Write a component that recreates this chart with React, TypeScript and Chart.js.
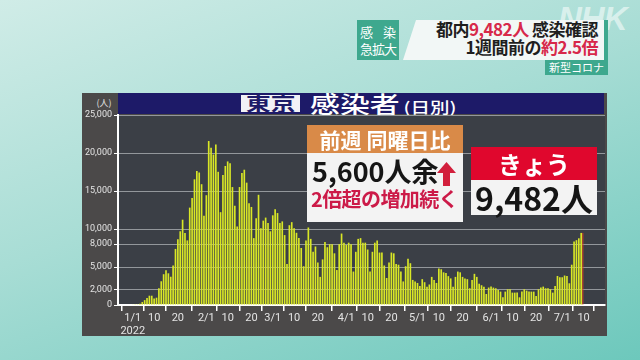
import React, { useEffect, useRef } from "react";
import { Chart, registerables } from "chart.js";

Chart.register(...registerables);

// Daily new cases, Tokyo 2022 (1/1 .. 7/9)
const casesJan = [78, 84, 103, 151, 390, 641, 922, 1224, 1223, 871, 962, 2198, 3124, 4051, 4561, 4172, 3719, 5185, 7377, 8638, 9699, 11227, 9468, 8503, 12813, 14086, 16538, 17631, 17433, 15895, 11751];
const casesFeb = [14445, 21576, 20679, 19798, 21121, 17526, 12214, 17113, 18287, 18891, 18660, 15520, 13060, 10330, 15520, 17370, 17800, 16100, 13400, 12900, 8800, 11400, 14500, 10100, 11100, 11500, 10800, 9700];
const casesMar = [11800, 12600, 12100, 10800, 11000, 9200, 5400, 10500, 10900, 10100, 9500, 8800, 7500, 5100, 8500, 10200, 8700, 7000, 7700, 5600, 3700, 6000, 8300, 7600, 8000, 8000, 6800, 4600, 8000, 9400, 8200];
const casesApr = [7900, 8200, 8000, 4400, 7000, 8700, 8800, 8200, 8200, 7300, 4400, 7000, 8200, 8500, 6900, 6900, 5200, 3550, 5600, 6900, 6800, 5400, 5300, 4400, 3100, 5100, 6100, 5500, 3300, 3100];
const casesMay = [2900, 2500, 3400, 3000, 2400, 2700, 3700, 3300, 2900, 4800, 4700, 4300, 4200, 3800, 3500, 2400, 3700, 4400, 4300, 3700, 3500, 3400, 2200, 3300, 4100, 3700, 2800, 2600, 2400, 1450, 2300];
const casesJun = [2420, 2290, 2200, 1980, 1760, 1010, 1760, 2070, 2070, 1630, 1630, 1630, 1010, 1760, 2070, 1890, 1760, 1760, 1760, 1190, 2070, 2290, 2420, 2200, 2200, 2070, 1630, 2500, 3820, 3650];
const casesJul = [3650, 3880, 3820, 2860, 5302, 8341, 8529, 8777, 9482];

const dailyCases = [...casesJan, ...casesFeb, ...casesMar, ...casesApr, ...casesMay, ...casesJun, ...casesJul];

// x ticks (day index from 1/1) and their labels
const xTickDays = [0, 9, 19, 31, 40, 50, 59, 68, 78, 90, 99, 109, 120, 129, 139, 151, 160, 170, 181, 190];
const xTickLabels = ["1/1", "10", "20", "2/1", "10", "20", "3/1", "10", "20", "4/1", "10", "20", "5/1", "10", "20", "6/1", "10", "20", "7/1", "10"];
const yearLabel = "2022";
const yTicks = [0, 2000, 5000, 8000, 10000, 15000, 20000, 25000];

const CJK = "'Noto Sans CJK JP', 'Noto Sans', sans-serif";

export default function App() {
  const canvasRef = useRef<HTMLCanvasElement | null>(null);

  useEffect(() => {
    const canvas = canvasRef.current;
    if (!canvas) return;
    const last = dailyCases.length - 1;

    const plotBg = {
      id: "plotBg",
      beforeDraw(chart: any) {
        const { ctx, chartArea: a } = chart;
        ctx.save();
        ctx.fillStyle = "#3b3f46";
        ctx.fillRect(a.left, a.top, a.right - a.left, a.bottom - a.top);
        ctx.restore();
      },
    };
    const todayMark = {
      id: "todayMark",
      afterDatasetsDraw(chart: any) {
        const meta = chart.getDatasetMeta(0);
        const bar = meta.data[last];
        if (!bar) return;
        const { ctx } = chart;
        const p = bar.getProps(["x", "y", "base", "width"], true);
        ctx.save();
        ctx.strokeStyle = "#d8452a";
        ctx.lineWidth = 1;
        ctx.beginPath();
        ctx.moveTo(p.x + p.width / 2 + 0.8, p.y);
        ctx.lineTo(p.x + p.width / 2 + 0.8, p.base);
        ctx.stroke();
        ctx.restore();
      },
    };

    const chart = new Chart(canvas, {
      type: "bar",
      data: {
        datasets: [
          {
            data: dailyCases.map((v, i) => ({ x: i, y: v })),
            backgroundColor: "#d9e726",
            borderWidth: 0,
            barPercentage: 0.7,
            categoryPercentage: 1,
          },
        ],
      },
      options: {
        animation: false,
        responsive: false,
        devicePixelRatio: 1,
        layout: { padding: { left: 78, right: 35, top: 115, bottom: 24 } },
        plugins: { legend: { display: false }, tooltip: { enabled: false } },
        scales: {
          x: {
            type: "linear",
            min: -1.1,
            max: 193.9,
            afterBuildTicks: (scale: any) => {
              scale.ticks = xTickDays.map((v) => ({ value: v }));
            },
            afterFit: (scale: any) => {
              scale.height = 31;
            },
            ticks: {
              autoSkip: false,
              maxRotation: 0,
              padding: 1,
              color: "#e4e4e4",
              font: { size: 11, family: "Roboto", lineHeight: 1.15 },
              callback: (value: any) => {
                const k = xTickDays.indexOf(value);
                if (k < 0) return "";
                return k === 0 ? [xTickLabels[0], yearLabel] : xTickLabels[k];
              },
            },
            grid: { drawOnChartArea: false, drawTicks: true, tickLength: 6, tickColor: "#ffffff", lineWidth: 1.5 },
            border: { display: true, color: "#ffffff", width: 2 },
          },
          y: {
            min: 0,
            max: 25000,
            afterBuildTicks: (scale: any) => {
              scale.ticks = yTicks.map((v) => ({ value: v }));
            },
            afterFit: (scale: any) => {
              scale.width = 40;
            },
            ticks: {
              padding: 2,
              color: "#e4e4e4",
              font: { size: 9, family: "Roboto" },
              callback: (value: any) => Number(value).toLocaleString("en-US"),
            },
            grid: {
              color: (ctx: any) => (ctx.tick && ctx.tick.value === 0 ? "rgba(0,0,0,0)" : "#93979b"),
              tickColor: "#ffffff",
              tickLength: 4,
              lineWidth: 1,
            },
            border: { display: true, color: "#ffffff", width: 2 },
          },
        },
      },
      plugins: [plotBg, todayMark],
    });
    return () => chart.destroy();
  }, []);

  const abs = (l: number, t: number, w: number, h: number): React.CSSProperties => ({
    position: "absolute",
    left: l,
    top: t,
    width: w,
    height: h,
  });

  return (
    <div
      style={{
        position: "fixed",
        left: 0,
        top: 0,
        width: 640,
        height: 360,
        overflow: "hidden",
        background: "linear-gradient(160deg, #d0ece7 0%, #a8ddd5 45%, #6dc8bc 100%)",
        fontFamily: CJK,
      }}
    >
      {/* NHK logo */}
      <div
        style={{
          position: "absolute",
          left: 558,
          top: 0,
          fontFamily: "'Liberation Sans', sans-serif",
          fontWeight: 700,
          fontStyle: "italic",
          fontSize: 33,
          color: "rgba(255,255,255,0.55)",
          letterSpacing: -1,
        }}
      >
        NHK
      </div>

      {/* header */}
      <div
        style={{
          ...abs(357, 20, 42, 40),
          background: "#3ea88e",
          color: "#fff",
          fontSize: 13,
          lineHeight: "17px",
          paddingTop: 3,
          boxSizing: "border-box",
        }}
      >
        <div style={{ display: "flex", justifyContent: "space-between", padding: "0 3px" }}>
          <span>感</span>
          <span>染</span>
        </div>
        <div style={{ textAlign: "center", letterSpacing: -1 }}>急拡大</div>
      </div>
      <div
        style={{
          ...abs(403, 20, 205, 40),
          background: "rgba(246,248,248,0.95)",
          clipPath: "polygon(13px 0, 100% 0, 100% 100%, 0 100%)",
        }}
      />
      <div style={{ ...abs(604, 20, 4, 55), background: "#3ea88e" }} />
      <div
        style={{
          position: "absolute",
          right: 42,
          top: 20,
          textAlign: "right",
          fontSize: 17,
          fontWeight: 700,
          lineHeight: "18px",
          color: "#1e1e1e",
          whiteSpace: "nowrap",
          letterSpacing: -0.5,
        }}
      >
        <div>
          都内<span style={{ color: "#d7284a" }}>9,482人</span> 感染確認
        </div>
        <div>
          1週間前の<span style={{ color: "#d7284a" }}>約2.5倍</span>
        </div>
      </div>
      <div
        style={{
          ...abs(545, 60, 63, 15),
          background: "#3ea88e",
          color: "#fff",
          fontSize: 11,
          lineHeight: "15px",
          textAlign: "center",
        }}
      >
        新型コロナ
      </div>

      {/* panel */}
      <div style={{ ...abs(82, 93, 525, 243), background: "#4b4949" }} />
      <div style={{ ...abs(118, 93, 486, 21), background: "#1d1a68" }} />
      <div
        style={{
          position: "absolute",
          left: 92,
          top: 96,
          width: 24,
          textAlign: "center",
          fontSize: 9,
          color: "#e0e0e0",
        }}
      >
        (人)
      </div>
      <div style={{ ...abs(241, 95, 59, 17), background: "#f1f1f6" }} />
      <div
        style={{
          position: "absolute",
          left: 246,
          top: 90,
          fontSize: 19,
          fontWeight: 700,
          color: "#1d1a68",
          lineHeight: "26px",
          transform: "scaleX(1.3)",
          transformOrigin: "left center",
        }}
      >
        東京
      </div>
      <div
        style={{
          position: "absolute",
          left: 310,
          top: 89,
          fontSize: 23,
          fontWeight: 500,
          color: "#ffffff",
          lineHeight: "28px",
          transform: "scaleX(1.3)",
          transformOrigin: "left center",
          whiteSpace: "nowrap",
        }}
      >
        感染者
        <span style={{ fontSize: 15, marginLeft: 3 }}>(日別)</span>
      </div>

      <canvas ref={canvasRef} width={640} height={360} style={{ position: "absolute", left: 0, top: 0 }} />

      {/* annotation: weekly comparison */}
      <div
        style={{
          ...abs(307, 125, 156, 28),
          background: "#d98a48",
          color: "#fff",
          fontSize: 21,
          fontWeight: 700,
          lineHeight: "28px",
          textAlign: "center",
          whiteSpace: "nowrap",
        }}
      >
        前週 同曜日比
      </div>
      <div style={{ ...abs(307, 153, 156, 69), background: "#f3f3f3" }} />
      <div
        style={{
          position: "absolute",
          left: 312,
          top: 155,
          fontSize: 27,
          fontWeight: 700,
          color: "#151515",
          lineHeight: "32px",
          whiteSpace: "nowrap",
        }}
      >
        5,600人余
      </div>
      <svg style={{ position: "absolute", left: 437, top: 162 }} width={19} height={24} viewBox="0 0 19 24">
        <polygon points="9.5,0 19,11 13,11 13,24 6,24 6,11 0,11" fill="#d21f3c" />
      </svg>
      <div
        style={{
          position: "absolute",
          left: 311,
          top: 186,
          fontSize: 20,
          fontWeight: 700,
          color: "#cc1a48",
          lineHeight: "26px",
          whiteSpace: "nowrap",
          letterSpacing: -0.6,
        }}
      >
        2倍超の増加続く
      </div>

      {/* annotation: today */}
      <div
        style={{
          ...abs(471, 147, 126, 33),
          background: "#e0072d",
          color: "#fff",
          fontSize: 24,
          fontWeight: 700,
          lineHeight: "33px",
          textAlign: "center",
        }}
      >
        きょう
      </div>
      <div
        style={{
          ...abs(471, 180, 126, 35),
          background: "#f3f3f3",
          color: "#151515",
          fontSize: 32,
          fontWeight: 700,
          lineHeight: "35px",
          textAlign: "center",
          whiteSpace: "nowrap",
        }}
      >
        9,482人
      </div>
    </div>
  );
}
